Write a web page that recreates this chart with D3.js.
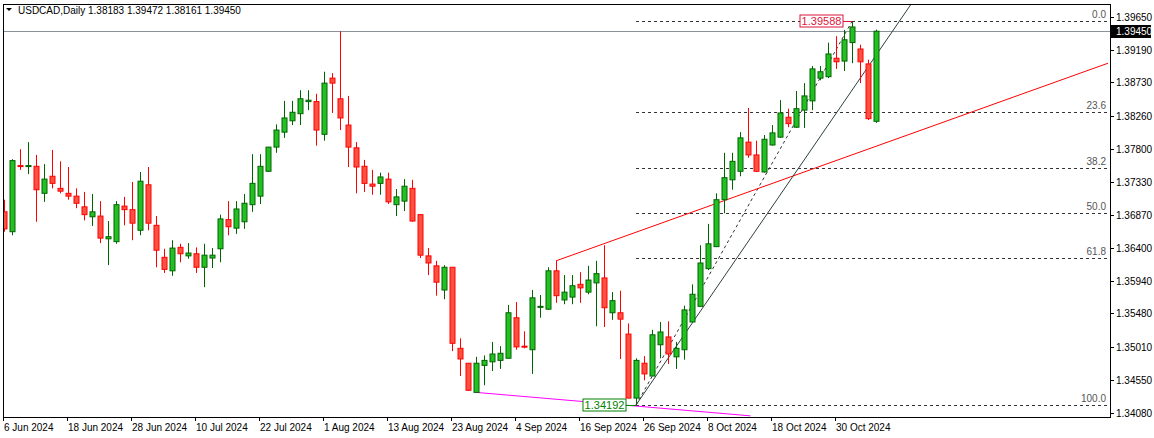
<!DOCTYPE html>
<html><head><meta charset="utf-8">
<script src="https://cdn.jsdelivr.net/npm/d3@7"></script>
<style>body{margin:0;background:#fff}svg{display:block;font-family:"Liberation Sans",Arial,sans-serif}</style>
</head><body><div id="chart"></div>
<script>
// OHLC per daily candle
const opens  = [1.3691,1.3663,1.3756,1.3755,1.3755,1.3717,1.3741,1.3724,1.3717,1.3713,1.3698,1.3684,1.3685,1.3653,1.3649,1.3699,1.3694,1.3665,1.3729,1.3672,1.3627,1.3608,1.3641,1.3629,1.3632,1.3613,1.3626,1.3639,1.3680,1.3668,1.3677,1.3701,1.3713,1.3748,1.3782,1.3803,1.3819,1.3829,1.3846,1.3846,1.3800,1.3879,1.3850,1.3813,1.3781,1.3755,1.3730,1.3731,1.3737,1.3701,1.3706,1.3724,1.3687,1.3629,1.3615,1.3581,1.3613,1.3499,1.3478,1.3437,1.3475,1.3480,1.3482,1.3485,1.3542,1.3502,1.3497,1.3557,1.3554,1.3608,1.3567,1.3571,1.3589,1.3578,1.3591,1.3598,1.3549,1.3549,1.3519,1.3429,1.3478,1.3460,1.3504,1.3515,1.3487,1.3497,1.3536,1.3558,1.3611,1.3642,1.3708,1.3736,1.3748,1.3789,1.3771,1.3747,1.3785,1.3796,1.3824,1.3810,1.3834,1.3847,1.3879,1.3881,1.3907,1.3903,1.3929,1.3920,1.3899,1.38183];
const highs  = [1.3708,1.3765,1.3779,1.3789,1.3771,1.3758,1.3778,1.3762,1.3754,1.3724,1.3719,1.3716,1.3706,1.3678,1.3706,1.3712,1.3733,1.3747,1.3754,1.3685,1.3639,1.3651,1.3646,1.3647,1.3641,1.3646,1.3640,1.3687,1.3706,1.3706,1.3716,1.3772,1.3772,1.3782,1.3814,1.3847,1.3847,1.3862,1.3862,1.3857,1.3888,1.3886,1.3945,1.3854,1.3789,1.3764,1.3750,1.3746,1.3746,1.3723,1.3737,1.3736,1.3687,1.3640,1.3622,1.3616,1.3613,1.3513,1.3478,1.3487,1.3489,1.3508,1.3502,1.3560,1.3564,1.3523,1.3581,1.3574,1.3613,1.3622,1.3602,1.3602,1.3606,1.3615,1.3622,1.3644,1.3578,1.3580,1.3534,1.3485,1.3488,1.3525,1.3536,1.3537,1.3508,1.3559,1.3589,1.3644,1.3674,1.3717,1.3774,1.3774,1.3803,1.3837,1.3791,1.3799,1.3813,1.3848,1.3836,1.3861,1.3872,1.3896,1.3896,1.3929,1.3938,1.3947,1.39588,1.3926,1.3905,1.39472];
const lows   = [1.3663,1.3658,1.3750,1.3744,1.3677,1.3705,1.3724,1.3717,1.3708,1.3696,1.3679,1.3671,1.3647,1.3616,1.3646,1.3672,1.3651,1.3658,1.3665,1.3613,1.3605,1.3601,1.3620,1.3625,1.3605,1.3585,1.3612,1.3620,1.3658,1.3660,1.3667,1.3691,1.3702,1.3747,1.3774,1.3795,1.3813,1.3813,1.3834,1.3784,1.3791,1.3830,1.3806,1.3754,1.3717,1.3719,1.3715,1.3715,1.3702,1.3685,1.3692,1.3677,1.3626,1.3602,1.3573,1.3568,1.3495,1.3460,1.3439,1.3437,1.3447,1.3467,1.3470,1.3485,1.3497,1.3499,1.3463,1.3542,1.3553,1.3563,1.3561,1.3561,1.3563,1.3575,1.3530,1.3529,1.3539,1.3484,1.3429,1.34192,1.3454,1.3460,1.3485,1.3477,1.3470,1.3483,1.3536,1.3558,1.3609,1.3642,1.3689,1.3722,1.3741,1.3767,1.3747,1.3746,1.3784,1.3795,1.3810,1.3809,1.3809,1.3834,1.3876,1.3879,1.3892,1.3889,1.3900,1.3872,1.3820,1.38161];
const closes = [1.3667,1.3763,1.3755,1.3756,1.3722,1.3737,1.3731,1.3720,1.3713,1.3703,1.3687,1.3691,1.3654,1.3656,1.3701,1.3694,1.3675,1.3734,1.3675,1.3637,1.3610,1.3640,1.3632,1.3633,1.3613,1.3630,1.3630,1.3681,1.3670,1.3695,1.3703,1.3731,1.3755,1.3782,1.3806,1.3823,1.3831,1.3850,1.3848,1.3806,1.3872,1.3872,1.3823,1.3782,1.3754,1.3731,1.3727,1.3740,1.3705,1.3712,1.3727,1.3678,1.3630,1.3619,1.3592,1.3613,1.3506,1.3484,1.3440,1.3478,1.3482,1.3491,1.3492,1.3549,1.3501,1.3501,1.3570,1.3558,1.3608,1.3573,1.3578,1.3587,1.3584,1.3595,1.3604,1.3556,1.3566,1.3540,1.3429,1.3482,1.3463,1.3518,1.3522,1.3491,1.3499,1.3553,1.3575,1.3619,1.3646,1.3708,1.3739,1.3762,1.3795,1.3771,1.3748,1.3793,1.3802,1.3830,1.3815,1.3836,1.3854,1.3892,1.3888,1.3913,1.3902,1.3933,1.3951,1.3902,1.3822,1.39450];
const priceTicks = [1.39650,1.39190,1.38730,1.38260,1.37800,1.37330,1.36870,1.36400,1.35940,1.35480,1.35010,1.34550,1.34080];
const dateLabels = ["6 Jun 2024","18 Jun 2024","28 Jun 2024","10 Jul 2024","22 Jul 2024","1 Aug 2024","13 Aug 2024","23 Aug 2024","4 Sep 2024","16 Sep 2024","26 Sep 2024","8 Oct 2024","18 Oct 2024","30 Oct 2024"];
const fibLevels = [0, 23.6, 38.2, 50.0, 61.8, 100.0];
const fibHigh = 1.39588, fibLow = 1.34192;
const fibStartIdx = 79, fibEndIdx = 106;
// trendlines [idx, price] pairs
const redTrend = [[69, 1.3622], [138, 1.3900]];
const blackTrend = [[79, 1.34192], [113.5, 1.3985]];
const magentaTrend = [[59, 1.3437], [93.3, 1.3404]];

const W = 1154, H = 438, plotL = 3, plotR = 1110, plotT = 4, plotB = 417;
const data = opens.map((o, i) => ({i, o, h: highs[i], l: lows[i], c: closes[i]}));
const x = d3.scaleLinear().domain([0, 109]).range([4, 876]);
const y = d3.scaleLinear().domain([1.3408, 1.3965]).range([413, 17]);

const svg = d3.select("#chart").append("svg").attr("width", W).attr("height", H);
svg.append("defs").append("clipPath").attr("id", "clip")
   .append("rect").attr("x", plotL).attr("y", plotT).attr("width", plotR - plotL).attr("height", plotB - plotT);
const g = svg.append("g").attr("clip-path", "url(#clip)");

// fibo levels
fibLevels.forEach(lv => {
  const p = fibHigh - (fibHigh - fibLow) * lv / 100;
  g.append("line").attr("x1", x(fibStartIdx)).attr("x2", plotR).attr("y1", Math.round(y(p)) + .5).attr("y2", Math.round(y(p)) + .5)
   .attr("stroke", "#333").attr("stroke-dasharray", "3,3");
  svg.append("text").attr("x", 1106).attr("y", Math.round(y(p)) - 3).attr("text-anchor", "end")
   .attr("font-size", 10).attr("fill", "#555").text(lv.toFixed(1));
});
g.append("line").attr("x1", x(fibStartIdx)).attr("y1", y(fibLow)).attr("x2", x(fibEndIdx)).attr("y2", y(fibHigh))
 .attr("stroke", "#333").attr("stroke-dasharray", "3,3");

// current price line
g.append("line").attr("x1", plotL).attr("x2", plotR).attr("y1", Math.round(y(1.3945)) + .5).attr("y2", Math.round(y(1.3945)) + .5)
 .attr("stroke", "#8a939b");

const tl = (pts, col) => g.append("line").attr("x1", x(pts[0][0])).attr("y1", y(pts[0][1]))
  .attr("x2", x(pts[1][0])).attr("y2", y(pts[1][1])).attr("stroke", col).attr("stroke-width", 1);
tl(redTrend, "#ff0000");
tl(blackTrend, "#2f3f3f");
tl(magentaTrend, "#ff00ff");

// candles
const cg = g.selectAll(".c").data(data).enter().append("g");
cg.append("line").attr("x1", d => Math.round(x(d.i)) + .5).attr("x2", d => Math.round(x(d.i)) + .5)
  .attr("y1", d => y(d.h)).attr("y2", d => y(d.l))
  .attr("stroke", d => d.c >= d.o ? "#006400" : "#ff0000");
cg.append("rect").attr("x", d => Math.round(x(d.i)) - 2).attr("width", 5)
  .attr("y", d => y(Math.max(d.o, d.c))).attr("height", d => Math.max(1, Math.abs(y(d.o) - y(d.c))))
  .attr("fill", d => d.c >= d.o ? "#22c022" : "#ff5040")
  .attr("stroke", d => d.c >= d.o ? "#006400" : "#ff0000");

// price boxes
function box(price, xr, col, idx) {
  const yy = Math.round(y(price));
  svg.append("line").attr("x1", xr).attr("x2", x(idx)).attr("y1", yy + .5).attr("y2", yy + .5).attr("stroke", col);
  svg.append("rect").attr("x", xr - 43).attr("y", yy - 6).attr("width", 43).attr("height", 12)
     .attr("fill", "#fff").attr("stroke", col);
  svg.append("text").attr("x", xr - 21.5).attr("y", yy + 4).attr("text-anchor", "middle")
     .attr("font-size", 11).attr("fill", col).text(price.toFixed(5));
}
box(fibHigh, 843, "#dc143c", 106);
box(fibLow, 626, "#008000", 79);

// frame
svg.append("rect").attr("x", plotL + .5).attr("y", plotT + .5).attr("width", plotR - plotL).attr("height", plotB - plotT)
   .attr("fill", "none").attr("stroke", "#000");

// right axis
priceTicks.forEach(p => {
  const yy = Math.round(y(p));
  svg.append("line").attr("x1", plotR).attr("x2", plotR + 4).attr("y1", yy + .5).attr("y2", yy + .5).attr("stroke", "#000");
  svg.append("text").attr("x", 1116).attr("y", yy + 4).attr("font-size", 10).attr("fill", "#000").text(p.toFixed(5));
});
const cy = Math.round(y(1.3945));
svg.append("rect").attr("x", plotR + 1).attr("y", cy - 6).attr("width", 40).attr("height", 13).attr("fill", "#000");
svg.append("text").attr("x", 1116).attr("y", cy + 4).attr("font-size", 10).attr("fill", "#fff").text("1.39450");

// bottom axis
dateLabels.forEach((t, k) => {
  const xx = Math.round(x(k * 8)) - 1;
  svg.append("line").attr("x1", xx + .5).attr("x2", xx + .5).attr("y1", plotB).attr("y2", plotB + 4).attr("stroke", "#000");
  svg.append("text").attr("x", xx + 1).attr("y", 431).attr("font-size", 10).attr("fill", "#000").text(t);
});

// title
svg.append("path").attr("d", "M6,8 L12,8 L9,11 Z").attr("fill", "#000");
svg.append("text").attr("x", 18).attr("y", 14).attr("font-size", 10).attr("fill", "#000")
   .text("USDCAD,Daily  1.38183 1.39472 1.38161 1.39450");
</script></body></html>
